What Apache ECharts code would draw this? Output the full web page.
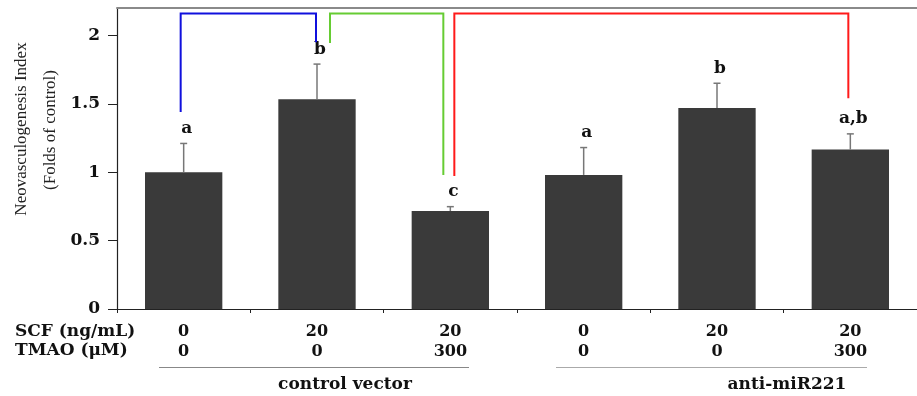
<!DOCTYPE html>
<html>
<head>
<meta charset="utf-8">
<script src="https://cdn.jsdelivr.net/npm/echarts@6/dist/echarts.min.js"></script>
<style>html,body{margin:0;padding:0;background:#fff}#c{width:917px;height:396px}</style>
</head>
<body>
<div id="c"></div>
<script>
// ---- data ----
const scfLabels = ['0', '20', '20', '0', '20', '20'];
const tmaoLabels = ['0', '0', '300', '0', '0', '300'];
const values = [1.0, 1.533, 0.716, 0.98, 1.47, 1.165];
const errors = [0.21, 0.257, 0.032, 0.20, 0.18, 0.115];
const letters = ['a', 'b', 'c', 'a', 'b', 'a,b'];
const yTicks = [0, 0.5, 1, 1.5, 2];
const groupNames = ['control vector', 'anti-miR221'];
const bracketFrom = [0, 1, 2];
const bracketTo = [1, 2, 5];
const bracketFromY = [1.44, 1.945, 0.972];
const bracketToY = [1.95, 0.98, 1.54];
const bracketTopY = 2.16;

// ---- styles ----
const bracketColors = ['#1010dd', '#66cc33', '#ff1a1a'];
const bracketDx = [[-3, -1], [13, -7], [4, -2]];
const serif = "'DejaVu Serif', 'Liberation Serif', serif";
const times = "'Liberation Serif', 'Times New Roman', serif";

const chart = echarts.init(document.getElementById('c'), null, {renderer: 'canvas'});

const cats = values.map((v, i) => i);

const option = {
  animation: false,
  grid: {left: 117, top: 8, right: 0, bottom: 87, containLabel: false},
  xAxis: [{
    type: 'category',
    data: cats,
    boundaryGap: true,
    axisLine: {lineStyle: {color: '#222', width: 1.2}},
    axisTick: {show: true, length: 4, lineStyle: {color: '#222'}},
    axisLabel: {
      margin: 13,
      formatter: (v, i) => scfLabels[i] + '\n' + tmaoLabels[i],
      fontFamily: serif, fontWeight: 'bold', fontSize: 16, lineHeight: 20, color: '#111'
    },
    splitLine: {show: false}
  }, {
    type: 'category',
    data: cats,
    position: 'top',
    axisLine: {lineStyle: {color: '#8a8a8a', width: 2}},
    axisTick: {show: false},
    axisLabel: {show: false}
  }],
  yAxis: {
    type: 'value',
    min: 0, max: 2.2,
    axisLine: {show: true, lineStyle: {color: '#222', width: 1.2}},
    axisTick: {show: true, length: 9, customValues: yTicks, lineStyle: {color: '#222'}},
    axisLabel: {customValues: yTicks, margin: 17, fontFamily: serif, fontWeight: 'bold', fontSize: 17, color: '#111'},
    splitLine: {show: false}
  },
  series: [{
    type: 'bar',
    data: values,
    barWidth: '58%',
    itemStyle: {color: '#3a3a3a'},
    z: 2
  }, {
    type: 'custom',
    clip: false,
    z: 3,
    data: values.map((v, i) => [i, v, v + errors[i]]),
    renderItem: (params, api) => {
      const i = api.value(0);
      const base = api.coord([i, api.value(1)]);
      const top = api.coord([i, api.value(2)]);
      return {
        type: 'group',
        children: [
          {type: 'line', shape: {x1: base[0], y1: base[1], x2: top[0], y2: top[1]}, style: {stroke: '#777', lineWidth: 1.5}},
          {type: 'line', shape: {x1: top[0] - 3.5, y1: top[1], x2: top[0] + 3.5, y2: top[1]}, style: {stroke: '#777', lineWidth: 1.5}},
          {type: 'text', x: top[0] + 3, y: top[1] - 15,
           style: {text: letters[i], align: 'center', verticalAlign: 'middle', font: 'bold 17px ' + serif, fill: '#111'}}
        ]
      };
    }
  }, {
    type: 'custom',
    clip: false,
    z: 4,
    data: bracketFrom.map((f, k) => [k]),
    renderItem: (params, api) => {
      const k = params.dataIndex;
      const a = api.coord([bracketFrom[k], bracketFromY[k]]);
      const b = api.coord([bracketTo[k], bracketToY[k]]);
      const t = api.coord([0, bracketTopY])[1];
      const x0 = a[0] + bracketDx[k][0], x1 = b[0] + bracketDx[k][1];
      return {
        type: 'polyline',
        shape: {points: [[x0, a[1]], [x0, t], [x1, t], [x1, b[1]]]},
        style: {stroke: bracketColors[k], lineWidth: 2, fill: null}
      };
    }
  }],
  graphic: [
    {type: 'text', x: 22, y: 129, rotation: Math.PI / 2,
     style: {text: 'Neovasculogenesis Index', font: '17px ' + times, fill: '#222', align: 'center', verticalAlign: 'middle'}},
    {type: 'text', x: 51, y: 130, rotation: Math.PI / 2,
     style: {text: '(Folds of control)', font: '17px ' + times, fill: '#222', align: 'center', verticalAlign: 'middle'}},
    {type: 'text', x: 15, y: 332,
     style: {text: 'SCF (ng/mL)', font: 'bold 17px ' + serif, fill: '#111', align: 'left', verticalAlign: 'middle'}},
    {type: 'text', x: 15, y: 351,
     style: {text: 'TMAO (\u03bcM)', font: 'bold 17px ' + serif, fill: '#111', align: 'left', verticalAlign: 'middle'}},
    {type: 'line', shape: {x1: 159, y1: 367.5, x2: 469, y2: 367.5}, style: {stroke: '#888', lineWidth: 1}},
    {type: 'line', shape: {x1: 556, y1: 367.5, x2: 867, y2: 367.5}, style: {stroke: '#aaa', lineWidth: 1}},
    {type: 'text', x: 345, y: 385,
     style: {text: groupNames[0], font: 'bold 17px ' + serif, fill: '#111', align: 'center', verticalAlign: 'middle'}},
    {type: 'text', x: 787, y: 385,
     style: {text: groupNames[1], font: 'bold 17px ' + serif, fill: '#111', align: 'center', verticalAlign: 'middle'}}
  ]
};
chart.setOption(option);
</script>
</body>
</html>
